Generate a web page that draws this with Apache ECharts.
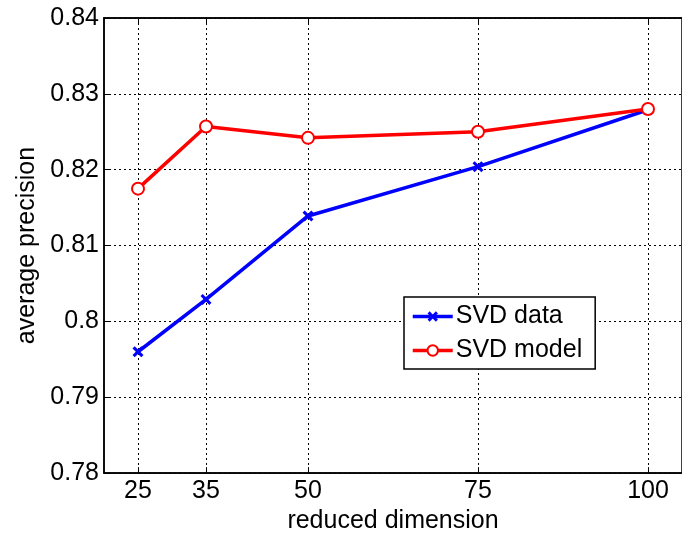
<!DOCTYPE html>
<html>
<head>
<meta charset="utf-8">
<script src="https://cdn.jsdelivr.net/npm/echarts@6/dist/echarts.min.js"></script>
<style>html,body{margin:0;padding:0;background:#fff;}#c{width:682px;height:539px;}</style>
</head>
<body>
<div id="c"></div>
<script>
const dims = [25, 35, 50, 75, 100];
const svdData = [0.7960, 0.8029, 0.8139, 0.8204, 0.8279];
const svdModel = [0.8175, 0.8257, 0.8242, 0.8250, 0.8280];
const xTicks = [25, 35, 50, 75, 100];
const seriesNames = ['SVD data', 'SVD model'];

const font = 'Liberation Sans, Arial, sans-serif';
const pair = (xs, ys) => xs.map((x, i) => [x, ys[i]]);
const gridLine = { show: true, lineStyle: { color: '#000', type: [2, 3], width: 1 } };
const xMark = 'path://M0,2L2,0L5,3L8,0L10,2L7,5L10,8L8,10L5,7L2,10L0,8L3,5Z';

const chart = echarts.init(document.getElementById('c'), null, { renderer: 'canvas' });
chart.setOption({
  animation: false,
  backgroundColor: '#fff',
  textStyle: { fontFamily: font },
  grid: { left: 104, right: -12, top: 18, bottom: 59, show: true, borderColor: '#000', borderWidth: 1.5, backgroundColor: 'transparent' },
  legend: {
    orient: 'vertical', left: 404, top: 297,
    data: seriesNames,
    itemWidth: 40, itemHeight: 13, itemGap: 9,
    padding: [7, 13, 6, 7],
    borderColor: '#000', borderWidth: 1.5, backgroundColor: '#fff',
    lineStyle: { width: 3.5 },
    itemStyle: { borderWidth: 3 },
    textStyle: { fontSize: 25, color: '#000', fontFamily: font, padding: [0, 0, 0, -2], lineHeight: 25 }
  },
  xAxis: [{
    type: 'value', min: 20, max: 105,
    name: 'reduced dimension', nameLocation: 'middle', nameGap: 34,
    nameTextStyle: { fontSize: 25, color: '#000', fontFamily: font },
    axisLine: { show: true, lineStyle: { color: '#000', width: 1.5 } },
    axisTick: { show: true, inside: true, length: 6, customValues: xTicks, lineStyle: { color: '#000' } },
    axisLabel: { customValues: xTicks, fontSize: 25, color: '#000', margin: 6, fontFamily: font },
    splitLine: gridLine
  }, {
    type: 'value', min: 20, max: 105, position: 'top',
    axisLine: { show: true, lineStyle: { color: '#000', width: 1.5 } },
    axisTick: { show: true, inside: true, length: 6, customValues: xTicks, lineStyle: { color: '#000' } },
    axisLabel: { show: false },
    splitLine: { show: false }
  }],
  yAxis: {
    type: 'value', min: 0.78, max: 0.84, interval: 0.01,
    name: 'average precision', nameLocation: 'middle', nameGap: 60,
    nameTextStyle: { fontSize: 25, color: '#000', fontFamily: font },
    axisLine: { show: true, lineStyle: { color: '#000', width: 1.5 } },
    axisTick: { show: true, inside: true, length: 6, lineStyle: { color: '#000' } },
    axisLabel: { fontSize: 25, color: '#000', margin: 5, fontFamily: font },
    splitLine: gridLine
  },
  series: [{
    name: seriesNames[0], type: 'line', xAxisIndex: 0,
    data: pair(dims, svdData),
    symbol: xMark, symbolSize: 11,
    lineStyle: { color: '#0000ff', width: 3.5 },
    itemStyle: { color: '#0000ff' }
  }, {
    name: seriesNames[1], type: 'line', xAxisIndex: 0,
    data: pair(dims, svdModel),
    symbol: 'emptyCircle', symbolSize: 12,
    lineStyle: { color: '#ff0000', width: 3.5 },
    itemStyle: { color: '#ff0000', borderColor: '#ff0000', borderWidth: 3 }
  }]
});
</script>
</body>
</html>
